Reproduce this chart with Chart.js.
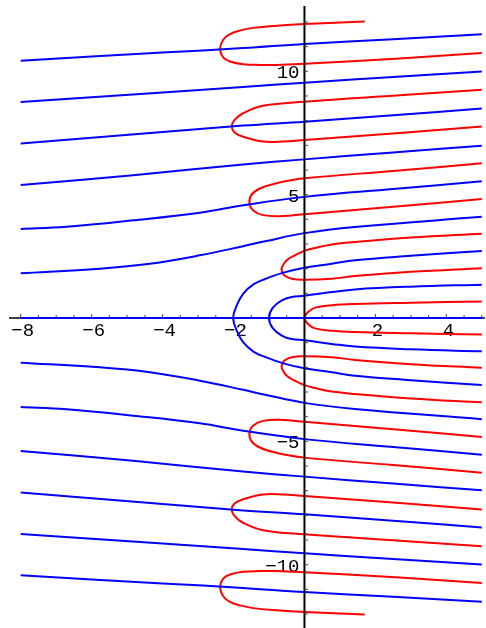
<!DOCTYPE html>
<html>
<head>
<meta charset="utf-8">
<script src="https://cdn.jsdelivr.net/npm/chart.js@4.4.0/dist/chart.umd.min.js"></script>
<style>
html,body{margin:0;padding:0;background:#fff;}
canvas{display:block;}
</style>
</head>
<body>
<canvas id="c" width="486" height="628"></canvas>
<script>
// Tick positions and labels
const xTicks = [-8,-7.5,-7,-6.5,-6,-5.5,-5,-4.5,-4,-3.5,-3,-2.5,-2,-1.5,-1,-0.5,0.5,1,1.5,2,2.5,3,3.5,4,4.5,5];
const xTickLabels = [-8,-6,-4,-2,2,4];
const yTicks = [-12,-11,-10,-9,-8,-7,-6,-5,-4,-3,-2,-1,1,2,3,4,5,6,7,8,9,10,11,12];
const yTickLabels = [-10,-5,5,10];

// Blue curves (x, y)
const blueAxis = [[-8,0],[5,0]];
const blue1 = [[-8,10.43],[-4,10.76],[-1.73,10.94],[0,11.11],[2.5,11.30],[5,11.50]];
const blue2 = [[-8,8.76],[-4,9.14],[-1.73,9.36],[0,9.54],[2.5,9.77],[5,9.99]];
const blue3 = [[-8,7.07],[-4,7.54],[-1.73,7.80],[0,7.96],[2.5,8.22],[5,8.49]];
const blue4 = [[-8,5.39],[-4.83,5.79],[-1.73,6.22],[0,6.43],[2.5,6.71],[5,6.98]];
const blue5 = [[-8,3.61],[-6.71,3.70],[-4.83,3.96],[-2.95,4.27],[-1.73,4.57],[0,4.91],[2.5,5.23],[5,5.54]];
const blue6 = [[-8,1.81],[-5.77,2.00],[-4.36,2.20],[-2.95,2.54],[-1.73,2.91],[-1.11,3.11],[0,3.44],[1.42,3.69],[5,4.10]];
const blue7 = [[5,-2.72],[3,-2.52],[1.42,-2.34],[0.77,-2.20],[0,-2.04],[-0.62,-1.83],[-1.11,-1.58],[-1.44,-1.36],[-1.73,-0.98],[-1.91,-0.51],[-2.01,0],
               [-1.91,0.51],[-1.73,0.98],[-1.44,1.36],[-1.11,1.58],[-0.62,1.83],[0,2.04],[0.77,2.20],[1.42,2.34],[3,2.52],[5,2.72]];
const blue8 = [[5,-1.35],[3,-1.27],[1.42,-1.16],[0.77,-1.05],[0,-0.90],[-0.36,-0.85],[-0.64,-0.71],[-0.90,-0.40],[-1.0,0],
               [-0.90,0.40],[-0.64,0.71],[-0.36,0.85],[0,0.90],[0.77,1.05],[1.42,1.16],[3,1.27],[5,1.35]];
const blue6b = [[-8,-1.81],[-5.77,-2.00],[-4.36,-2.20],[-2.95,-2.54],[-1.73,-2.91],[-1.11,-3.11],[0,-3.44],[1.42,-3.69],[5,-4.10]];
const blue5b = [[-8,-3.61],[-6.71,-3.70],[-4.83,-3.96],[-2.95,-4.27],[-1.73,-4.57],[0,-4.91],[2.5,-5.23],[5,-5.54]];
const blue4b = [[-8,-5.39],[-4.83,-5.79],[-1.73,-6.22],[0,-6.43],[2.5,-6.71],[5,-6.98]];
const blue3b = [[-8,-7.07],[-4,-7.54],[-1.73,-7.80],[0,-7.96],[2.5,-8.22],[5,-8.49]];
const blue2b = [[-8,-8.76],[-4,-9.14],[-1.73,-9.36],[0,-9.54],[2.5,-9.77],[5,-9.99]];
const blue1b = [[-8,-10.43],[-4,-10.76],[-1.73,-10.94],[0,-11.11],[2.5,-11.30],[5,-11.50]];

// Red curves (x, y)
const red1 = [[1.70,12.02],[0,11.92],[-0.78,11.85],[-1.44,11.76],[-1.82,11.65],[-2.10,11.51],[-2.29,11.28],[-2.38,10.90],[-2.29,10.56],[-2.10,10.40],[-1.73,10.29],[-1.25,10.26],[-0.78,10.26],[0,10.31],[2.69,10.52],[5,10.74]];
const red2 = [[5,9.25],[2.69,9.03],[0,8.77],[-1.17,8.60],[-1.73,8.30],[-1.97,8.03],[-2.05,7.76],[-1.97,7.52],[-1.73,7.35],[-1.17,7.15],[-0.6,7.15],[0,7.22],[2.69,7.50],[5,7.76]];
const red3 = [[5,6.27],[2.5,5.96],[0,5.66],[-0.80,5.46],[-1.26,5.25],[-1.50,4.98],[-1.55,4.64],[-1.45,4.37],[-1.17,4.17],[-0.61,4.13],[0,4.21],[2.5,4.51],[5,4.82]];
const red4 = [[5,3.42],[3,3.26],[1.42,3.08],[0.77,2.98],[0.30,2.84],[0,2.72],[-0.27,2.54],[-0.50,2.34],[-0.63,2.07],[-0.64,1.93],[-0.57,1.73],[-0.36,1.59],[0,1.55],[0.77,1.59],[1.42,1.70],[3,1.87],[5,2.02]];
const red5 = [[5,0.67],[3,0.62],[1.42,0.57],[0.77,0.52],[0.30,0.42],[0.11,0.25],[0,0],[0.11,-0.25],[0.30,-0.42],[0.77,-0.52],[1.42,-0.57],[3,-0.62],[5,-0.67]];
const red4b = [[5,-3.42],[3,-3.26],[1.42,-3.08],[0.77,-2.98],[0.30,-2.84],[0,-2.72],[-0.27,-2.54],[-0.50,-2.34],[-0.63,-2.07],[-0.64,-1.93],[-0.57,-1.73],[-0.36,-1.59],[0,-1.55],[0.77,-1.59],[1.42,-1.70],[3,-1.87],[5,-2.02]];
const red3b = [[5,-6.27],[2.5,-5.96],[0,-5.66],[-0.80,-5.46],[-1.26,-5.25],[-1.50,-4.98],[-1.55,-4.64],[-1.45,-4.37],[-1.17,-4.17],[-0.61,-4.13],[0,-4.21],[2.5,-4.51],[5,-4.82]];
const red2b = [[5,-9.25],[2.69,-9.03],[0,-8.77],[-1.17,-8.60],[-1.73,-8.30],[-1.97,-8.03],[-2.05,-7.76],[-1.97,-7.52],[-1.73,-7.35],[-1.17,-7.15],[-0.6,-7.15],[0,-7.22],[2.69,-7.50],[5,-7.76]];
const red1b = [[1.70,-12.02],[0,-11.92],[-0.78,-11.85],[-1.44,-11.76],[-1.82,-11.65],[-2.10,-11.51],[-2.29,-11.28],[-2.38,-10.90],[-2.29,-10.56],[-2.10,-10.40],[-1.73,-10.29],[-1.25,-10.26],[-0.78,-10.26],[0,-10.31],[2.69,-10.52],[5,-10.74]];

const blueCurves = [blueAxis, blue1, blue2, blue3, blue4, blue5, blue6, blue7, blue8, blue6b, blue5b, blue4b, blue3b, blue2b, blue1b];
const redCurves = [red1, red2, red3, red4, red5, red4b, red3b, red2b, red1b];

const BLUE = '#0000ff';
const RED = '#ff0000';

function toDataset(pts, color) {
  return {
    data: pts.map(p => ({x: p[0], y: p[1]})),
    showLine: true,
    borderColor: color,
    backgroundColor: color,
    borderWidth: 2,
    pointRadius: 0,
    pointHoverRadius: 0,
    tension: 0.4,
    fill: false
  };
}

// blue first so it is drawn on top
const datasets = blueCurves.map(c => toDataset(c, BLUE)).concat(redCurves.map(c => toDataset(c, RED)));

function fmt(v) { return v < 0 ? '\u2212' + Math.abs(v) : String(v); }

const mathAxes = {
  id: 'mathAxes',
  beforeDatasetsDraw(chart) {
    const {ctx, chartArea} = chart;
    const sx = chart.scales.x, sy = chart.scales.y;
    const x0 = sx.getPixelForValue(0), y0 = sy.getPixelForValue(0);
    ctx.save();
    ctx.strokeStyle = '#000';
    ctx.lineWidth = 1.3;
    ctx.beginPath();
    ctx.moveTo(chartArea.left, y0);
    ctx.lineTo(chartArea.right, y0);
    ctx.stroke();
    ctx.lineWidth = 1;
    ctx.strokeStyle = '#444';
    for (const v of xTicks) {
      const px = sx.getPixelForValue(v);
      const len = (xTickLabels.indexOf(v) >= 0) ? 4 : 3;
      ctx.beginPath();
      ctx.moveTo(px, y0);
      ctx.lineTo(px, y0 - len);
      ctx.stroke();
    }
    ctx.fillStyle = '#000';
    ctx.font = '19px "Liberation Mono", "DejaVu Sans Mono", monospace';
    ctx.textAlign = 'center';
    ctx.textBaseline = 'alphabetic';
    for (const v of xTickLabels) {
      ctx.fillText(fmt(v), sx.getPixelForValue(v) + 2, y0 + 18);
    }
    ctx.textAlign = 'right';
    for (const v of yTickLabels) {
      ctx.fillText(fmt(v), x0 - 5, sy.getPixelForValue(v) + 7);
    }
    ctx.restore();
  },
  afterDatasetsDraw(chart) {
    const {ctx, chartArea} = chart;
    const sx = chart.scales.x, sy = chart.scales.y;
    const x0 = sx.getPixelForValue(0);
    ctx.save();
    ctx.strokeStyle = '#000';
    ctx.lineWidth = 2;
    ctx.beginPath();
    ctx.moveTo(x0, chartArea.top);
    ctx.lineTo(x0, chartArea.bottom);
    ctx.stroke();
    ctx.lineWidth = 1;
    ctx.strokeStyle = '#444';
    for (const v of yTicks) {
      const py = sy.getPixelForValue(v);
      ctx.beginPath();
      ctx.moveTo(x0, py);
      ctx.lineTo(x0 + 3.5, py);
      ctx.stroke();
    }
    ctx.restore();
  }
};

new Chart(document.getElementById('c'), {
  type: 'scatter',
  data: { datasets: datasets },
  options: {
    responsive: false,
    animation: false,
    devicePixelRatio: 1,
    layout: { padding: { left: 9, right: 1, top: 6, bottom: 0 } },
    scales: {
      x: { type: 'linear', min: -8.33, max: 5.09, display: false },
      y: { type: 'linear', min: -12.566, max: 12.647, display: false }
    },
    plugins: { legend: { display: false }, tooltip: { enabled: false } },
    events: []
  },
  plugins: [mathAxes]
});
</script>
</body>
</html>
